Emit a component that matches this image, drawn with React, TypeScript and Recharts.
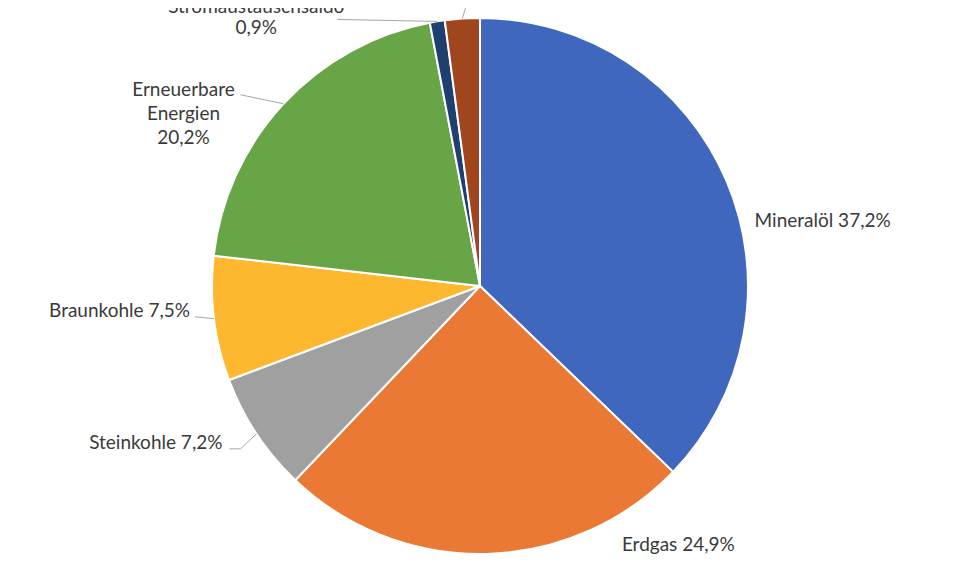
import { Cell, Pie, PieChart } from "recharts";

const names = [
  "Mineralöl",
  "Erdgas",
  "Steinkohle",
  "Braunkohle",
  "Erneuerbare Energien",
  "Stromaustauschsaldo",
  "Sonstige",
];
const shares = [37.2, 24.9, 7.2, 7.5, 20.2, 0.9, 2.1];
const colors = ["#3f67be", "#ea7936", "#a0a0a0", "#fdb830", "#67a547", "#1f3f6e", "#a0461e"];

// label lines per slice (value appended to the last line)
const labelLines = [
  ["Mineralöl"],
  ["Erdgas"],
  ["Steinkohle"],
  ["Braunkohle"],
  ["Erneuerbare", "Energien", ""],
  ["Stromaustauschsaldo", ""],
  ["Sonstige"],
];

// placement relative to the slice's outer mid point
type Place = {
  dx: number;
  dy: number;
  anchor: "start" | "middle" | "end";
  gap?: number;
  leader?: [number, number][];
};
const places: Place[] = [
  { dx: 28, dy: 46, anchor: "start" },
  { dx: 136, dy: -3, anchor: "start" },
  { dx: -34, dy: 15, anchor: "end", leader: [[-16, 15], [-27, 15]] },
  { dx: -24, dy: -2, anchor: "end", leader: [[-19, -2]] },
  { dx: -100, dy: -8, anchor: "middle", gap: 24, leader: [[-43, -9]] },
  { dx: -181, dy: -8, anchor: "middle", gap: 21, leader: [[-100, -2]] },
  { dx: 6, dy: -18, anchor: "start", leader: [[6, -20]] },
];

const data = names.map((name, i) => ({ name, value: shares[i] }));
const RADIAN = Math.PI / 180;
const fmt = (v: number) => `${v.toFixed(1).replace(".", ",")}%`;

function renderLabel(props: any) {
  const { cx, cy, midAngle, outerRadius, index, value } = props;
  const px = cx + outerRadius * Math.cos(-midAngle * RADIAN);
  const py = cy + outerRadius * Math.sin(-midAngle * RADIAN);
  const p = places[index];
  const lines = labelLines[index].slice();
  const last = lines.length - 1;
  lines[last] = lines[last] ? `${lines[last]} ${fmt(value)}` : fmt(value);
  return (
    <g key={`lbl-${index}`}>
      {p.leader && (
        <polyline
          points={[[0, 0], ...p.leader].map(([x, y]) => `${px + x},${py + y}`).join(" ")}
          fill="none"
          stroke="#a6a6a6"
          strokeWidth={1}
        />
      )}
      <text
        x={px + p.dx}
        y={py + p.dy}
        textAnchor={p.anchor}
        fill="#3a3a3a"
        fontSize={19}
        fontFamily="Lato, 'Open Sans', sans-serif"
      >
        {lines.map((l, i) => (
          <tspan key={i} x={px + p.dx} dy={i === 0 ? 0 : p.gap ?? 24}>
            {l}
          </tspan>
        ))}
      </text>
    </g>
  );
}

export default function App() {
  return (
    <div style={{ margin: "-8px 0 0 -8px", width: 960, height: 576, background: "#fff" }}>
      <PieChart width={960} height={576} margin={{ top: 0, right: 0, bottom: 0, left: 0 }}>
        <Pie
          data={data}
          dataKey="value"
          nameKey="name"
          cx={480}
          cy={286}
          outerRadius={268}
          startAngle={90}
          endAngle={-270}
          stroke="#ffffff"
          strokeWidth={2}
          label={renderLabel}
          labelLine={false}
          isAnimationActive={false}
        >
          {data.map((d, i) => (
            <Cell key={d.name} fill={colors[i]} />
          ))}
        </Pie>
      </PieChart>
    </div>
  );
}
